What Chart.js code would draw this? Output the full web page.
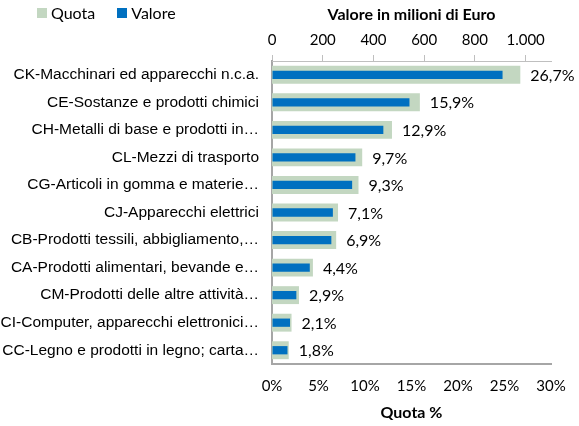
<!DOCTYPE html>
<html>
<head>
<meta charset="utf-8">
<script src="https://cdn.jsdelivr.net/npm/chart.js@4"></script>
<style>
  html, body { margin: 0; padding: 0; background: #fff; }
  #wrap { position: relative; width: 579px; height: 426px; }
  #legend { position: absolute; left: 37px; top: 3px; font: 16px Lato, sans-serif; color: #000; display: flex; gap: 22px; }
  #legend span { display: inline-flex; align-items: center; }
  #legend i { display: inline-block; width: 10px; height: 10px; margin-right: 4px; }
</style>
</head>
<body>
<div id="wrap">
  <canvas id="chart" width="579" height="426"></canvas>
  <div id="legend">
    <span><i style="background:#c3d7c1"></i>Quota</span>
    <span><i style="background:#0070c0"></i>Valore</span>
  </div>
</div>
<script>
const categories = [
  "CK-Macchinari ed apparecchi n.c.a.",
  "CE-Sostanze e prodotti chimici",
  "CH-Metalli di base e prodotti in…",
  "CL-Mezzi di trasporto",
  "CG-Articoli in gomma e materie…",
  "CJ-Apparecchi elettrici",
  "CB-Prodotti tessili, abbigliamento,…",
  "CA-Prodotti alimentari, bevande e…",
  "CM-Prodotti delle altre attività…",
  "CI-Computer, apparecchi elettronici…",
  "CC-Legno e prodotti in legno; carta…"
];
const quota = [26.7, 15.9, 12.9, 9.7, 9.3, 7.1, 6.9, 4.4, 2.9, 2.1, 1.8];
const valore = [909, 542, 439, 329, 316, 240, 234, 149, 96, 71, 61];
const valoreTickValues = [0, 200, 400, 600, 800, 1000];
const valoreTicks = ["0", "200", "400", "600", "800", "1.000"];
const quotaTicks = ["0%", "5%", "10%", "15%", "20%", "25%", "30%"];

const sideFont = "Lato, sans-serif";

// etichette a fine barra della quota
const barLabels = {
  id: 'barLabels',
  afterDatasetsDraw(chart) {
    const ctx = chart.ctx;
    const meta = chart.getDatasetMeta(1);
    ctx.save();
    ctx.font = '16px ' + sideFont;
    ctx.fillStyle = '#000';
    ctx.textAlign = 'left';
    ctx.textBaseline = 'middle';
    meta.data.forEach((bar, i) => {
      ctx.fillText(quota[i].toFixed(1).replace('.', ',') + '%', bar.x + 10, bar.y + 1);
    });
    ctx.restore();
  }
};

new Chart(document.getElementById('chart'), {
  type: 'bar',
  data: {
    labels: categories,
    datasets: [
      {
        label: 'Valore',
        data: valore,
        xAxisID: 'x2',
        backgroundColor: '#0070c0',
        barPercentage: 0.3,
        categoryPercentage: 1,
        grouped: false,
        order: 0
      },
      {
        label: 'Quota',
        data: quota,
        xAxisID: 'x',
        backgroundColor: '#c3d7c1',
        barPercentage: 0.65,
        categoryPercentage: 1,
        grouped: false,
        order: 1
      }
    ]
  },
  options: {
    indexAxis: 'y',
    responsive: false,
    animation: false,
    layout: { padding: { left: 0, right: 28, top: 0, bottom: 0 } },
    plugins: {
      legend: { display: false },
      tooltip: { enabled: false }
    },
    scales: {
      y: {
        grid: { display: false, drawTicks: false },
        border: { display: true, color: '#a6a6a6', width: 2 },
        ticks: { color: '#000', padding: 13, autoSkip: false, font: { family: 'Liberation Sans, Arial, sans-serif', size: 15.5 } },
        afterFit: s => { s.width = 272; }
      },
      x: {
        position: 'bottom',
        min: 0,
        max: 30,
        grid: { display: false },
        border: { display: true, color: '#a6a6a6', width: 2 },
        ticks: {
          stepSize: 5,
          color: '#000',
          padding: 5,
          maxRotation: 0,
          font: { family: sideFont, size: 15 },
          callback: v => quotaTicks[Math.round(v / 5)]
        },
        title: { display: true, text: 'Quota %', color: '#000', font: { family: sideFont, size: 16, weight: 'bold' }, padding: { top: 8 } },
        afterFit: s => { s.height = 62; }
      },
      x2: {
        position: 'top',
        min: 0,
        max: 1100,
        afterBuildTicks: s => { s.ticks = valoreTickValues.map(v => ({ value: v })); },
        grid: { drawOnChartArea: false, drawTicks: true, tickLength: 6, color: '#bfbfbf' },
        border: { display: true, color: '#bfbfbf', width: 1 },
        ticks: {
          color: '#000',
          padding: 6,
          maxRotation: 0,
          autoSkip: false,
          font: { family: sideFont, size: 15 },
          callback: (v, i) => valoreTicks[i]
        },
        title: { display: true, text: 'Valore in milioni di Euro', color: '#000', font: { family: sideFont, size: 16, weight: 'bold' }, padding: { top: 5, bottom: 4 } },
        afterFit: s => { s.height = 61; }
      }
    }
  },
  plugins: [barLabels]
});
</script>
</body>
</html>
